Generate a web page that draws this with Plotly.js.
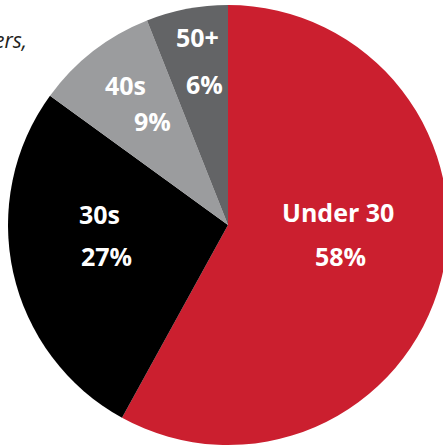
<!DOCTYPE html>
<html>
<head>
<meta charset="utf-8">
<script src="https://cdn.plot.ly/plotly-3.0.1.min.js"></script>
<style>
html,body{margin:0;padding:0;overflow:hidden;background:#fff;width:443px;height:447px;}
#chart{width:460px;height:447px;}
</style>
</head>
<body>
<div id="chart"></div>
<script>
const categories = ["Under 30", "30s", "40s", "50+"];
const shares = [58, 27, 9, 6];
const percentLabels = ["58%", "27%", "9%", "6%"];
const colors = ["#CB1F2F", "#000000", "#9B9C9E", "#636466"];

const W = 460, H = 447;
const px = x => x / W;
const py = y => 1 - y / H;

// label centres (pixels) for name and percent lines
const labelPos = [
  {name: [338, 212], pct: [340, 256]},
  {name: [99, 214],  pct: [106, 256]},
  {name: [125, 85],  pct: [152, 121]},
  {name: [197, 37],  pct: [204, 84]}
];

const annotations = [];
categories.forEach((c, i) => {
  annotations.push({text: c, x: px(labelPos[i].name[0]), y: py(labelPos[i].name[1]),
    xref: 'paper', yref: 'paper', showarrow: false, xanchor: 'center', yanchor: 'middle',
    font: {family: 'Open Sans', size: 25, color: '#ffffff', weight: 'bold'}});
  annotations.push({text: percentLabels[i], x: px(labelPos[i].pct[0]), y: py(labelPos[i].pct[1]),
    xref: 'paper', yref: 'paper', showarrow: false, xanchor: 'center', yanchor: 'middle',
    font: {family: 'Open Sans', size: 25, color: '#ffffff', weight: 'bold'}});
});
annotations.push({text: '<i>ers,</i>', x: px(29), y: py(40), xref: 'paper', yref: 'paper',
  showarrow: false, xanchor: 'right', yanchor: 'middle',
  font: {family: 'Open Sans', size: 21, color: '#231f20'}});

const data = [{
  type: 'pie',
  labels: categories,
  values: shares,
  sort: false,
  direction: 'clockwise',
  rotation: 0,
  textinfo: 'none',
  hoverinfo: 'none',
  marker: {colors: colors, line: {width: 0}},
  domain: {x: [8 / W, 448 / W], y: [2 / H, 442 / H]}
}];

const layout = {
  width: W, height: H,
  margin: {l: 0, r: 0, t: 0, b: 0},
  showlegend: false,
  paper_bgcolor: '#ffffff',
  annotations: annotations
};

Plotly.newPlot('chart', data, layout, {displayModeBar: false, staticPlot: true});
</script>
</body>
</html>
